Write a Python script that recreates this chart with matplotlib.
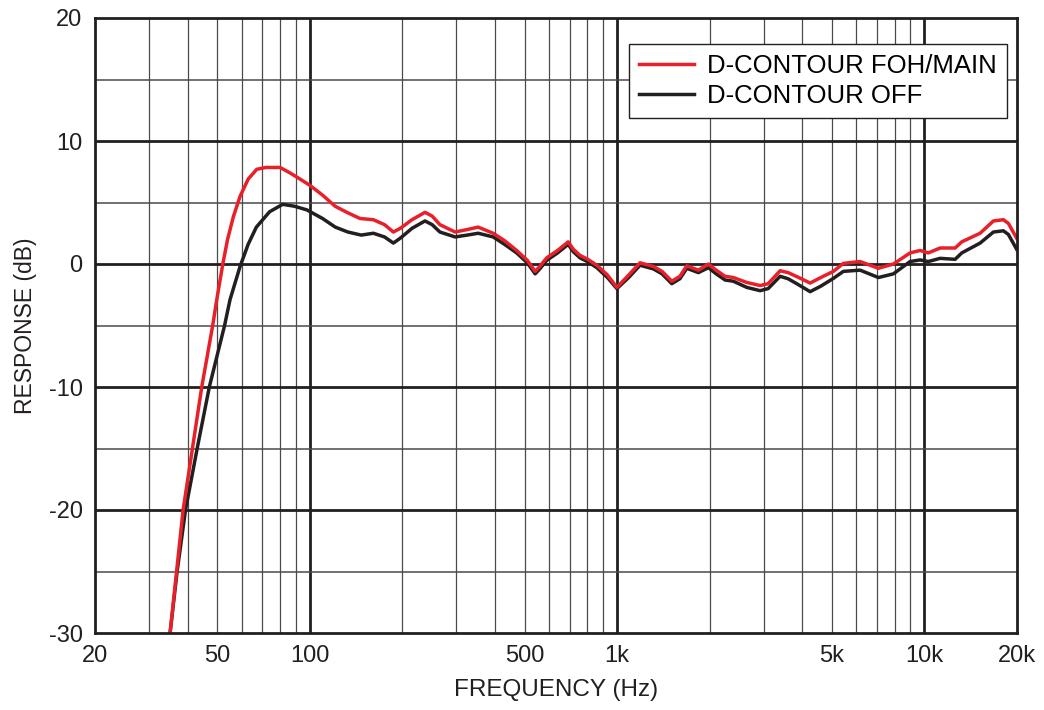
import matplotlib
matplotlib.use("Agg")
import matplotlib.pyplot as plt
from matplotlib.ticker import FixedLocator, NullFormatter

REG = 'Liberation Sans'

# ---- data ----
freq_foh = [35.1, 38.7, 44.5, 48.3, 49.8, 52.1, 54.0, 56.4, 59.3, 63, 67.2, 72, 80, 86.3, 93, 100,
            110, 120.8, 132, 145.6, 161, 175, 187, 197, 215, 237, 250, 265, 297, 325, 353, 395, 430,
            471, 510, 541, 560, 590, 640, 693, 720, 757, 800, 859, 930, 998, 1090, 1187, 1312, 1400,
            1506, 1600, 1685, 1838, 1981, 2100,
            2244, 2388, 2640, 2918, 3100, 3390, 3600, 3900, 4245, 4600, 5053, 5446, 6173, 7080, 7925,
            8976, 9675, 10290, 11240, 12580, 13220, 15170, 16760, 18060, 18750, 19950]
resp_foh = [-30, -20, -10, -5, -2.9, 0, 2.0, 3.85, 5.5, 6.9, 7.7, 7.85, 7.85, 7.4, 6.9, 6.4,
            5.6, 4.7, 4.2, 3.7, 3.6, 3.2, 2.6, 2.9, 3.6, 4.2, 3.9, 3.2, 2.6, 2.8, 3.0, 2.5, 1.9,
            1.1, 0.3, -0.6, -0.2, 0.5, 1.1, 1.8, 1.2, 0.7, 0.4, -0.1, -0.9, -1.9, -0.9, 0.1, -0.2, -0.6,
            -1.4, -1.0, -0.15, -0.5, 0.0, -0.5,
            -1.0, -1.1, -1.5, -1.75, -1.6, -0.55, -0.7, -1.1, -1.55, -1.1, -0.6, 0.05, 0.2, -0.35, 0.0,
            0.9, 1.1, 0.9, 1.3, 1.3, 1.8, 2.5, 3.5, 3.6, 3.3, 2.1]

freq_off = [35.1, 37.0, 39.4, 43.0, 47.1, 52.8, 55.0, 59.3, 63, 67, 74, 81.6, 89, 97.8,
            110, 121, 133, 147, 161, 175, 187, 197, 215, 237, 250, 265, 297, 325, 353, 395, 430,
            471, 510, 541, 560, 590, 640, 693, 720, 757, 800, 859, 930, 998, 1090, 1187, 1312, 1400,
            1506, 1600, 1685, 1838, 1981, 2100,
            2244, 2388, 2640, 2918, 3100, 3390, 3600, 3900, 4245, 4600, 5053, 5446, 6173, 7080, 7925,
            8976, 9675, 10290, 11240, 12580, 13220, 15170, 16760, 18060, 18750, 19950]
resp_off = [-30, -25, -20, -15, -10, -5, -2.9, -0.2, 1.6, 3.0, 4.25, 4.85, 4.7, 4.4,
            3.7, 3.0, 2.6, 2.35, 2.5, 2.2, 1.7, 2.1, 2.9, 3.5, 3.2, 2.6, 2.2, 2.35, 2.5, 2.2, 1.6,
            0.9, 0.1, -0.8, -0.4, 0.3, 0.9, 1.6, 1.0, 0.5, 0.2, -0.3, -1.1, -2.0, -1.1, -0.1, -0.4, -0.8,
            -1.6, -1.2, -0.35, -0.7, -0.3, -0.8,
            -1.3, -1.4, -1.9, -2.17, -2.0, -1.0, -1.2, -1.7, -2.25, -1.8, -1.17, -0.6, -0.5, -1.1, -0.8,
            0.2, 0.33, 0.2, 0.46, 0.38, 0.9, 1.7, 2.6, 2.7, 2.4, 1.2]

xticks = [20, 50, 100, 500, 1000, 5000, 10000, 20000]
xticklabels = ['20', '50', '100', '500', '1k', '5k', '10k', '20k']
yticks = [-30, -20, -10, 0, 10, 20]

RED = '#e8202a'
BLACK = '#231f20'

fig = plt.figure(figsize=(10.44, 7.10), dpi=100)
ax = fig.add_axes([95/1044, 1-633/710, 922/1044, 615/710])
ax.set_xscale('log')
ax.set_xlim(20, 20000)
ax.set_ylim(-30, 20)

# grid
minor_x = [m*10**d for d in range(1, 5) for m in range(2, 10) if 20 < m*10**d < 20000]
for f in minor_x:
    ax.axvline(f, color='#4a4a4a', lw=0.9, zorder=1)
for f in [100, 1000, 10000]:
    ax.axvline(f, color='#231f20', lw=2.0, zorder=1)
for y in range(-25, 20, 10):
    ax.axhline(y, color='#4a4a4a', lw=1.1, zorder=1)
for y in range(-20, 20, 10):
    ax.axhline(y, color='#231f20', lw=2.0, zorder=1)

ax.plot(freq_off, resp_off, color=BLACK, lw=2.5, label='D-CONTOUR OFF', zorder=3,
        solid_joinstyle='round')
ax.plot(freq_foh, resp_foh, color=RED, lw=2.5, label='D-CONTOUR FOH/MAIN', zorder=4,
        solid_joinstyle='round')

for s in ax.spines.values():
    s.set_linewidth(2.0)
    s.set_color(BLACK)
    s.set_zorder(5)

ax.xaxis.set_major_locator(FixedLocator(xticks))
ax.xaxis.set_minor_locator(FixedLocator([]))
ax.xaxis.set_minor_formatter(NullFormatter())
ax.set_xticks(xticks)
ax.set_xticklabels(xticklabels, family=REG, fontsize=17)
ax.set_yticks(yticks)
ax.set_yticklabels([str(v) for v in yticks], family=REG, fontsize=17)
ax.tick_params(axis='both', length=0, pad=9, colors=BLACK)

ax.set_xlabel('FREQUENCY (Hz)', family=REG, fontsize=17.5, labelpad=8, color=BLACK)
ax.set_ylabel('RESPONSE (dB)', family=REG, fontsize=16.5, labelpad=8, color=BLACK)

h, l = ax.get_legend_handles_labels()
leg = ax.legend(h[::-1], l[::-1], loc='upper right', bbox_to_anchor=(0.989, 0.958),
                borderaxespad=0, prop={'family': REG, 'size': 18.5}, handlelength=2.15,
                fancybox=False, framealpha=1, edgecolor=BLACK, labelspacing=0.25,
                borderpad=0.38, handletextpad=0.5)
leg.get_frame().set_linewidth(1.0)
leg.set_zorder(6)

fig.savefig('out.png', dpi=100)
